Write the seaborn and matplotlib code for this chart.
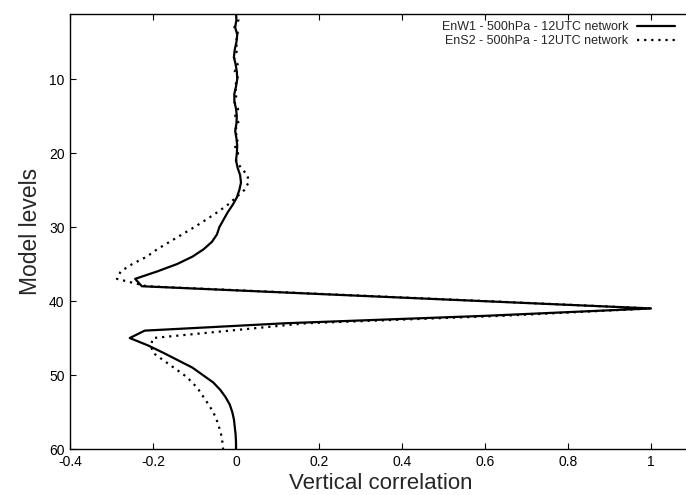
import numpy as np
import pandas as pd
import matplotlib
matplotlib.use("Agg")
import matplotlib.pyplot as plt
import seaborn as sns
from matplotlib.ticker import FuncFormatter

# model levels 1..60
levels = list(range(1, 61))

# EnW1 - 500hPa - 12UTC network (solid)
enw1 = [0.000, 0.001, -0.002, 0.003, 0.001, -0.003, -0.005, -0.001, 0.002, 0.003,
        0.000, -0.004, -0.004, 0.000, 0.002, 0.001, -0.002, 0.001, 0.003, 0.002,
        0.000, 0.004, 0.010, 0.012, 0.008, 0.002, -0.008, -0.020, -0.030, -0.040,
        -0.046, -0.058, -0.078, -0.105, -0.142, -0.190, -0.243, -0.227, 0.180, 0.590,
        1.000, 0.600, 0.120, -0.220, -0.256, -0.212, -0.175, -0.140, -0.105, -0.080,
        -0.055, -0.038, -0.025, -0.015, -0.009, -0.005, -0.003, -0.001, 0.000, 0.000]

# EnS2 - 500hPa - 12UTC network (dotted)
ens2 = [0.003, 0.006, -0.004, 0.007, -0.002, 0.005, -0.006, 0.004, -0.003, 0.006,
        -0.004, 0.003, -0.005, 0.005, -0.002, 0.007, -0.004, 0.006, -0.003, 0.005,
        0.000, 0.012, 0.028, 0.030, 0.020, 0.000, -0.020, -0.045, -0.072, -0.100,
        -0.130, -0.160, -0.190, -0.215, -0.250, -0.278, -0.287, -0.215, 0.190, 0.600,
        1.000, 0.640, 0.170, -0.015, -0.200, -0.205, -0.200, -0.175, -0.150, -0.125,
        -0.105, -0.090, -0.078, -0.066, -0.055, -0.047, -0.041, -0.036, -0.033, -0.031]

labels = ["EnW1 - 500hPa - 12UTC network", "EnS2 - 500hPa - 12UTC network"]
x_ticks = [-0.4, -0.2, 0, 0.2, 0.4, 0.6, 0.8, 1]
y_ticks = [10, 20, 30, 40, 50, 60]

sns.set_theme(style="ticks")
plt.rcParams["font.family"] = ["Liberation Sans", "DejaVu Sans"]
plt.rcParams["xtick.direction"] = "in"
plt.rcParams["ytick.direction"] = "in"

df = pd.DataFrame({
    "level": levels * 2,
    "corr": enw1 + ens2,
    "series": [labels[0]] * len(levels) + [labels[1]] * len(levels),
})

fig = plt.figure(figsize=(6.86, 4.95), dpi=100)
ax = fig.add_axes([70 / 686, 46 / 495, 622.5 / 686, 435 / 495])

sns.lineplot(data=df[df["series"] == labels[0]], x="corr", y="level", orient="y",
             sort=False, estimator=None, color="black", linewidth=1.6,
             label=labels[0], ax=ax)
sns.lineplot(data=df[df["series"] == labels[1]], x="corr", y="level", orient="y",
             sort=False, estimator=None, color="black", linewidth=1.6,
             linestyle=(0, (1, 2.2)), label=labels[1], ax=ax)

ax.set_xlim(-0.4, 1.1)
ax.set_ylim(60, 1.2)
ax.set_xticks(x_ticks)
ax.set_yticks(y_ticks)
ax.xaxis.set_major_formatter(FuncFormatter(lambda v, p: f"{v:g}"))
ax.tick_params(axis="both", which="both", top=True, right=True, length=4,
               width=0.8, labelsize=10, color="black", labelcolor="black", pad=4)
for s in ax.spines.values():
    s.set_color("black")
    s.set_linewidth(1.0)

ax.set_xlabel("Vertical correlation", fontsize=16, labelpad=3)
ax.set_ylabel("Model levels", fontsize=16.5, labelpad=5)

ax.get_legend().remove()
handles, lbls = ax.get_legend_handles_labels()
fig.legend(handles, lbls, loc="upper right", bbox_to_anchor=(682 / 686, 1 - 14 / 495),
           frameon=False, fontsize=9, markerfirst=False, handlelength=3.0,
           handletextpad=0.7, labelspacing=0.15, borderaxespad=0.2)

fig.savefig("out.png", dpi=100)
